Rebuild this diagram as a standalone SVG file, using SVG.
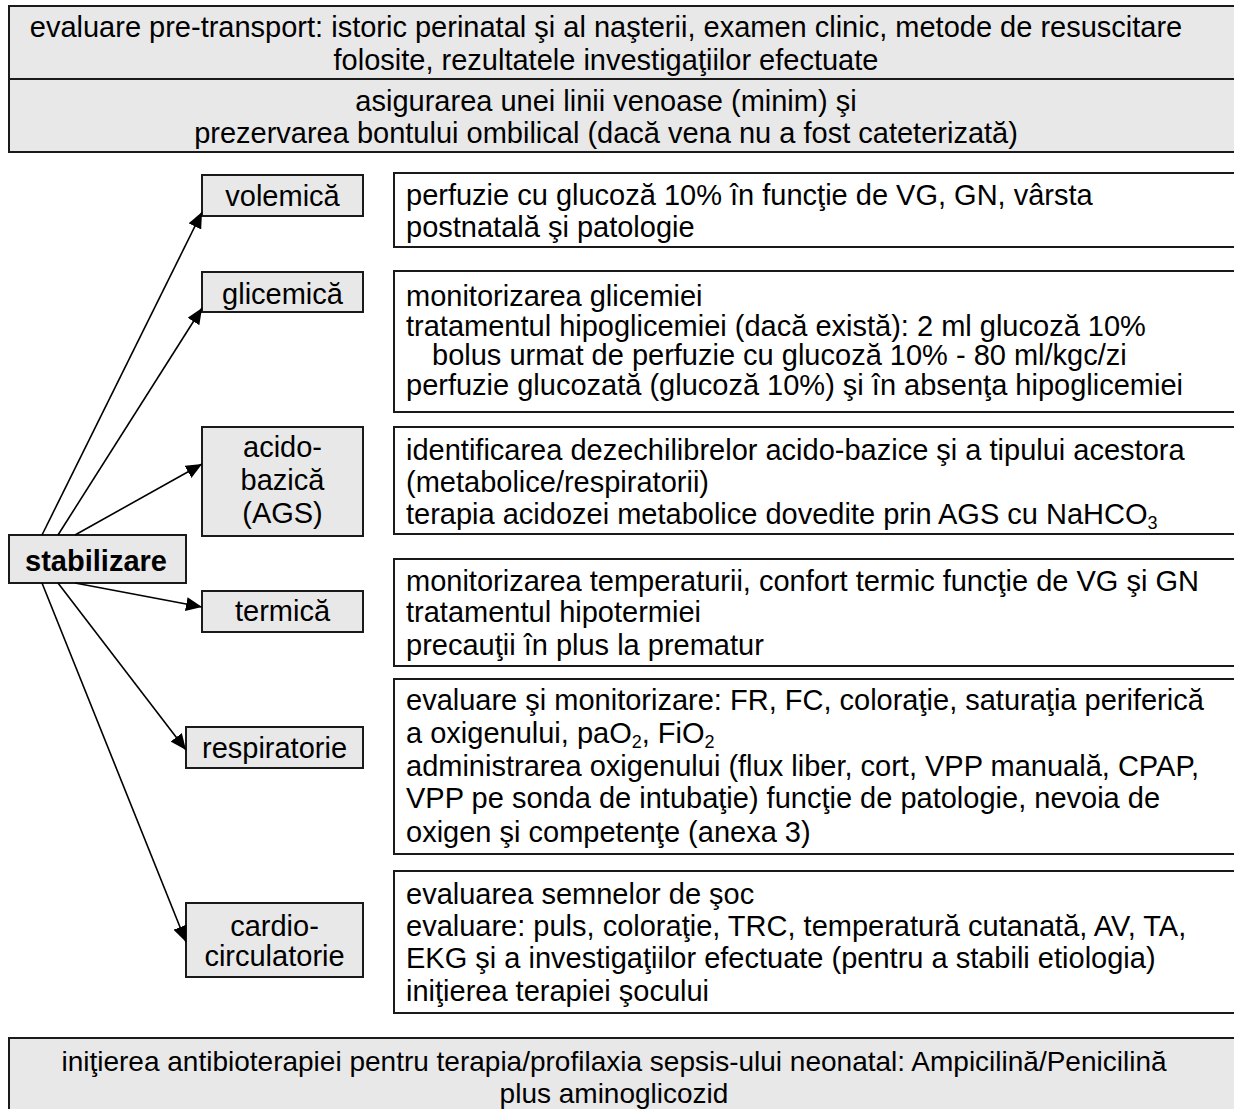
<svg xmlns="http://www.w3.org/2000/svg" width="1234" height="1109" viewBox="0 0 1234 1109">
<style>
text{font-family:"Liberation Sans",Arial,Helvetica,sans-serif;font-size:29px;fill:#000}
.c{text-anchor:middle}
.b{font-weight:bold}
.s28{font-size:28px}
.g{fill:#e8e8e8;stroke:#1a1a1a;stroke-width:2}
.w{fill:#fff;stroke:#1a1a1a;stroke-width:2}
.e{stroke:#000;stroke-width:1.6;fill:none;marker-end:url(#ah)}
.sub{font-size:18px}
</style>
<defs>
<marker id="ah" markerUnits="userSpaceOnUse" markerWidth="17" markerHeight="14" refX="16" refY="7" orient="auto">
<path d="M0,0 L16,7 L0,14 z" fill="#000"/>
</marker>
</defs>
<rect width="1234" height="1109" fill="#fff"/>

<g id="pretransport">
<rect class="g" x="9" y="6" width="1240" height="73"/>
<text class="c" x="606" y="37">evaluare pre-transport: istoric perinatal şi al naşterii, examen clinic, metode de resuscitare</text>
<text class="c" x="606" y="70">folosite, rezultatele investigaţiilor efectuate</text>
</g>
<g id="linie-venoasa">
<rect class="g" x="9" y="79" width="1240" height="73"/>
<text class="c" x="606" y="111">asigurarea unei linii venoase (minim) şi</text>
<text class="c" x="606" y="143">prezervarea bontului ombilical (dacă vena nu a fost cateterizată)</text>
</g>

<g id="stabilizare">
<rect class="g" x="9" y="535" width="177" height="48"/>
<text class="c b" x="96" y="571">stabilizare</text>
</g>

<g id="volemica">
<rect class="g" x="202" y="175" width="161" height="41"/>
<text class="c" x="282.5" y="206">volemică</text>
</g>
<g id="glicemica">
<rect class="g" x="202" y="272" width="161" height="40"/>
<text class="c" x="282.5" y="304">glicemică</text>
</g>
<g id="acidobazica">
<rect class="g" x="202" y="427" width="161" height="109"/>
<text class="c" x="282.5" y="457">acido-</text>
<text class="c" x="282.5" y="490">bazică</text>
<text class="c" x="282.5" y="523">(AGS)</text>
</g>
<g id="termica">
<rect class="g" x="202" y="591" width="161" height="41"/>
<text class="c" x="282.5" y="621">termică</text>
</g>
<g id="respiratorie">
<rect class="g" x="186" y="727" width="177" height="41"/>
<text class="c" x="274.5" y="758">respiratorie</text>
</g>
<g id="cardiocirculatorie">
<rect class="g" x="186" y="903" width="177" height="74"/>
<text class="c" x="274.5" y="936">cardio-</text>
<text class="c" x="274.5" y="966">circulatorie</text>
</g>

<g id="txt-volemica">
<rect class="w" x="394" y="173" width="860" height="74"/>
<text x="406" y="205">perfuzie cu glucoză 10% în funcţie de VG, GN, vârsta</text>
<text x="406" y="237">postnatală şi patologie</text>
</g>
<g id="txt-glicemica">
<rect class="w" x="394" y="271" width="860" height="141"/>
<text x="406" y="306">monitorizarea glicemiei</text>
<text x="406" y="336">tratamentul hipoglicemiei (dacă există): 2 ml glucoză 10%</text>
<text x="432" y="365">bolus urmat de perfuzie cu glucoză 10% - 80 ml/kgc/zi</text>
<text x="406" y="395">perfuzie glucozată (glucoză 10%) şi în absenţa hipoglicemiei</text>
</g>
<g id="txt-acidobazica">
<rect class="w" x="394" y="427" width="860" height="107"/>
<text x="406" y="460">identificarea dezechilibrelor acido-bazice şi a tipului acestora</text>
<text x="406" y="492">(metabolice/respiratorii)</text>
<text x="406" y="524">terapia acidozei metabolice dovedite prin AGS cu NaHCO<tspan class="sub" dy="5">3</tspan></text>
</g>
<g id="txt-termica">
<rect class="w" x="394" y="559" width="860" height="107"/>
<text x="406" y="591">monitorizarea temperaturii, confort termic funcţie de VG şi GN</text>
<text x="406" y="622">tratamentul hipotermiei</text>
<text x="406" y="655">precauţii în plus la prematur</text>
</g>
<g id="txt-respiratorie">
<rect class="w" x="394" y="679" width="860" height="175"/>
<text x="406" y="710">evaluare şi monitorizare: FR, FC, coloraţie, saturaţia periferică</text>
<text x="406" y="743">a oxigenului, paO<tspan class="sub" dy="5">2</tspan><tspan dy="-5">, FiO</tspan><tspan class="sub" dy="5">2</tspan></text>
<text x="406" y="776">administrarea oxigenului (flux liber, cort, VPP manuală, CPAP,</text>
<text x="406" y="808">VPP pe sonda de intubaţie) funcţie de patologie, nevoia de</text>
<text x="406" y="842">oxigen şi competenţe (anexa 3)</text>
</g>
<g id="txt-cardiocirculatorie">
<rect class="w" x="394" y="871" width="860" height="142"/>
<text x="406" y="904">evaluarea semnelor de şoc</text>
<text x="406" y="936">evaluare: puls, coloraţie, TRC, temperatură cutanată, AV, TA,</text>
<text x="406" y="968">EKG şi a investigaţiilor efectuate (pentru a stabili etiologia)</text>
<text x="406" y="1001">iniţierea terapiei şocului</text>
</g>

<g id="antibioterapie">
<rect class="g" x="9" y="1038" width="1240" height="90"/>
<text class="c s28" x="614" y="1071">iniţierea antibioterapiei pentru terapia/profilaxia sepsis-ului neonatal: Ampicilină/Penicilină</text>
<text class="c s28" x="614" y="1103">plus aminoglicozid</text>
</g>

<g id="connectors">
<line class="e" x1="42" y1="535" x2="202" y2="212"/>
<line class="e" x1="58" y1="535" x2="202" y2="308"/>
<line class="e" x1="75" y1="535" x2="202" y2="464"/>
<line class="e" x1="75" y1="583" x2="202" y2="607"/>
<line class="e" x1="58" y1="583" x2="186" y2="750"/>
<line class="e" x1="42" y1="583" x2="186" y2="942"/>
</g>
</svg>
